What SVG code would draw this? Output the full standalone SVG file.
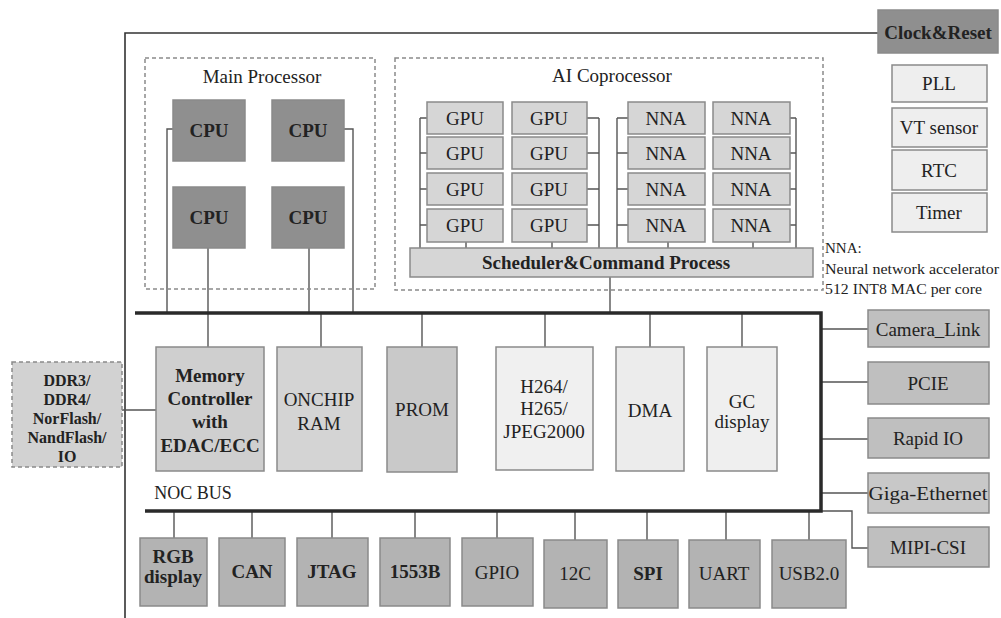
<svg xmlns="http://www.w3.org/2000/svg" width="1001" height="618" viewBox="0 0 1001 618">
<style>
text{font-family:"Liberation Serif","Times New Roman",serif;fill:#222;text-anchor:middle;font-size:19px}
.b{font-weight:bold}
.box{stroke:#8a8a8a;stroke-width:1.5}
.dash{fill:none;stroke:#8a8a8a;stroke-width:1.5;stroke-dasharray:4 3}
.cn{fill:none;stroke:#555;stroke-width:1.4}
.bus{fill:none;stroke:#2a2a2a;stroke-width:3.5}
.frame{fill:none;stroke:#333;stroke-width:1.6}
.dark{fill:#8f8f8f}
.mid{fill:#b3b3b3}
.per{fill:#bfbfbf}
.lt{fill:#d6d6d6}
.vl{fill:#eeeeee}
.note{font-size:15px;text-anchor:start}
.ddr{font-size:16px;font-weight:bold}
</style>
<rect width="1001" height="618" fill="#ffffff"/>

<g id="frame">
<path class="frame" d="M125 618 V33 H878"/>
</g>

<g id="connectors">
<path class="cn" d="M173 129 H167 V313"/>
<path class="cn" d="M344 129 H353 V313"/>
<path class="cn" d="M208 248 V313"/>
<path class="cn" d="M309 248 V313"/>
<path class="cn" d="M420 248 V118"/>
<path class="cn" d="M420 118 H427 M420 153 H427 M420 189 H427 M420 225 H427"/>
<path class="cn" d="M599 248 V118"/>
<path class="cn" d="M587 118 H599 M587 153 H599 M587 189 H599 M587 225 H599"/>
<path class="cn" d="M466 242 V248 M552 242 V248"/>
<path class="cn" d="M617 248 V118"/>
<path class="cn" d="M617 118 H628 M617 153 H628 M617 189 H628 M617 225 H628"/>
<path class="cn" d="M796 248 V118"/>
<path class="cn" d="M790 118 H796 M790 153 H796 M790 189 H796 M790 225 H796"/>
<path class="cn" d="M668 242 V248 M753 242 V248"/>
<path class="cn" d="M610 277 V313"/>
<path class="cn" d="M208 313 V347"/>
<path class="cn" d="M321 313 V347"/>
<path class="cn" d="M422 313 V347"/>
<path class="cn" d="M545 313 V347"/>
<path class="cn" d="M650 313 V347"/>
<path class="cn" d="M742 313 V347"/>
<path class="cn" d="M122 410 H156"/>
<path class="cn" d="M821 329 H868"/>
<path class="cn" d="M821 382 H868"/>
<path class="cn" d="M821 439 H868"/>
<path class="cn" d="M821 493 H868"/>
<path class="cn" d="M821 511 H852 V548 H868"/>
<path class="cn" d="M174 511 V538 M252 511 V538 M332 511 V538 M415 511 V538 M497 511 V538 M575 511 V540 M647 511 V540 M726 511 V540 M809 511 V540"/>
<path class="bus" d="M135 313 H821 V511 H145"/>
</g>

<g id="main-processor">
<rect class="dash" x="145" y="58" width="230" height="231"/>
<text x="262" y="83">Main Processor</text>
</g>
<g id="cpu1"><rect class="box dark" x="173" y="100" width="72" height="61"/><text class="b" x="209" y="137">CPU</text></g>
<g id="cpu2"><rect class="box dark" x="272" y="100" width="72" height="61"/><text class="b" x="308" y="137">CPU</text></g>
<g id="cpu3"><rect class="box dark" x="173" y="187" width="72" height="61"/><text class="b" x="209" y="224">CPU</text></g>
<g id="cpu4"><rect class="box dark" x="272" y="187" width="72" height="61"/><text class="b" x="308" y="224">CPU</text></g>

<g id="ai-coprocessor">
<rect class="dash" x="395" y="58" width="428" height="232"/>
<text x="612" y="82">AI Coprocessor</text>
</g>
<g id="gpus">
<rect class="box lt" x="427" y="102" width="76" height="32"/><text x="465" y="125">GPU</text>
<rect class="box lt" x="512" y="102" width="75" height="32"/><text x="549" y="125">GPU</text>
<rect class="box lt" x="427" y="137" width="76" height="32"/><text x="465" y="160">GPU</text>
<rect class="box lt" x="512" y="137" width="75" height="32"/><text x="549" y="160">GPU</text>
<rect class="box lt" x="427" y="173" width="76" height="32"/><text x="465" y="196">GPU</text>
<rect class="box lt" x="512" y="173" width="75" height="32"/><text x="549" y="196">GPU</text>
<rect class="box lt" x="427" y="209" width="76" height="33"/><text x="465" y="232">GPU</text>
<rect class="box lt" x="512" y="209" width="75" height="33"/><text x="549" y="232">GPU</text>
</g>
<g id="nnas">
<rect class="box lt" x="628" y="102" width="77" height="32"/><text x="666" y="125">NNA</text>
<rect class="box lt" x="713" y="102" width="77" height="32"/><text x="751" y="125">NNA</text>
<rect class="box lt" x="628" y="137" width="77" height="32"/><text x="666" y="160">NNA</text>
<rect class="box lt" x="713" y="137" width="77" height="32"/><text x="751" y="160">NNA</text>
<rect class="box lt" x="628" y="173" width="77" height="32"/><text x="666" y="196">NNA</text>
<rect class="box lt" x="713" y="173" width="77" height="32"/><text x="751" y="196">NNA</text>
<rect class="box lt" x="628" y="209" width="77" height="33"/><text x="666" y="232">NNA</text>
<rect class="box lt" x="713" y="209" width="77" height="33"/><text x="751" y="232">NNA</text>
</g>
<g id="scheduler">
<rect class="box lt" x="410" y="248" width="403" height="29"/>
<text class="b" x="606" y="269">Scheduler&amp;Command Process</text>
</g>

<g id="nna-note">
<text class="note" x="825" y="253">NNA:</text>
<text class="note" x="825" y="274" textLength="174" lengthAdjust="spacingAndGlyphs">Neural network accelerator</text>
<text class="note" x="825" y="294" textLength="157" lengthAdjust="spacingAndGlyphs">512 INT8 MAC per core</text>
</g>

<g id="clock-reset">
<rect class="box dark" x="878" y="10" width="120" height="43"/>
<text class="b" x="938" y="39">Clock&amp;Reset</text>
</g>
<g id="pll"><rect class="box vl" x="892" y="65" width="95" height="37"/><text x="939" y="90">PLL</text></g>
<g id="vt-sensor"><rect class="box vl" x="892" y="108" width="95" height="39"/><text x="939" y="134">VT sensor</text></g>
<g id="rtc"><rect class="box vl" x="892" y="150" width="95" height="40"/><text x="939" y="177">RTC</text></g>
<g id="timer"><rect class="box vl" x="892" y="193" width="95" height="39"/><text x="939" y="219">Timer</text></g>

<g id="ddr">
<rect x="12" y="362" width="110" height="105" fill="#d2d2d2" stroke="#8a8a8a" stroke-width="1.5" stroke-dasharray="4 3"/>
<text class="ddr" x="67" y="386">DDR3/</text>
<text class="ddr" x="67" y="405">DDR4/</text>
<text class="ddr" x="67" y="424">NorFlash/</text>
<text class="ddr" x="67" y="443">NandFlash/</text>
<text class="ddr" x="67" y="462">IO</text>
</g>

<g id="memory-controller">
<rect class="box" fill="#cfcfcf" x="156" y="347" width="108" height="124"/>
<text class="b" x="210" y="382">Memory</text>
<text class="b" x="210" y="405">Controller</text>
<text class="b" x="210" y="428">with</text>
<text class="b" x="210" y="452">EDAC/ECC</text>
</g>
<g id="onchip-ram">
<rect class="box" fill="#d4d4d4" x="277" y="347" width="85" height="124"/>
<text x="319" y="406">ONCHIP</text>
<text x="319" y="430">RAM</text>
</g>
<g id="prom">
<rect class="box" fill="#c9c9c9" x="387" y="347" width="70" height="125"/>
<text x="422" y="416">PROM</text>
</g>
<g id="codec">
<rect class="box" fill="#f0f0f0" x="496" y="347" width="97" height="123"/>
<text x="544" y="393">H264/</text>
<text x="544" y="415">H265/</text>
<text x="544" y="438">JPEG2000</text>
</g>
<g id="dma">
<rect class="box" fill="#ececec" x="616" y="347" width="68" height="124"/>
<text x="650" y="417">DMA</text>
</g>
<g id="gc-display">
<rect class="box" fill="#efefef" x="707" y="347" width="70" height="124"/>
<text x="742" y="408">GC</text>
<text x="742" y="428">display</text>
</g>
<g id="noc-label">
<text x="193" y="499" style="font-size:18px">NOC BUS</text>
</g>

<g id="camera-link"><rect class="box per" x="868" y="310" width="121" height="37"/><text x="928" y="336">Camera_Link</text></g>
<g id="pcie"><rect class="box per" x="868" y="362" width="121" height="42"/><text x="928" y="390">PCIE</text></g>
<g id="rapid-io"><rect class="box per" x="868" y="418" width="121" height="40"/><text x="928" y="445">Rapid IO</text></g>
<g id="giga-ethernet"><rect class="box" fill="#c8c8c8" x="868" y="473" width="121" height="40"/><text x="928" y="500" textLength="119" lengthAdjust="spacingAndGlyphs">Giga-Ethernet</text></g>
<g id="mipi-csi"><rect class="box per" x="868" y="527" width="121" height="40"/><text x="928" y="554">MIPI-CSI</text></g>

<g id="rgb-display"><rect class="box mid" x="140" y="538" width="67" height="68"/><text class="b" x="173" y="563">RGB</text><text class="b" x="173" y="583">display</text></g>
<g id="can"><rect class="box mid" x="219" y="538" width="66" height="68"/><text class="b" x="252" y="578">CAN</text></g>
<g id="jtag"><rect class="box mid" x="297" y="538" width="71" height="68"/><text class="b" x="332" y="578">JTAG</text></g>
<g id="b1553"><rect class="box mid" x="380" y="538" width="70" height="68"/><text class="b" x="415" y="578">1553B</text></g>
<g id="gpio"><rect class="box mid" x="462" y="538" width="71" height="68"/><text x="497" y="579">GPIO</text></g>
<g id="i2c"><rect class="box mid" x="544" y="540" width="63" height="68"/><text x="575" y="580">12C</text></g>
<g id="spi"><rect class="box mid" x="618" y="540" width="60" height="68"/><text class="b" x="648" y="580">SPI</text></g>
<g id="uart"><rect class="box mid" x="689" y="540" width="71" height="68"/><text x="724" y="580">UART</text></g>
<g id="usb"><rect class="box mid" x="772" y="540" width="74" height="68"/><text x="809" y="580">USB2.0</text></g>
</svg>
